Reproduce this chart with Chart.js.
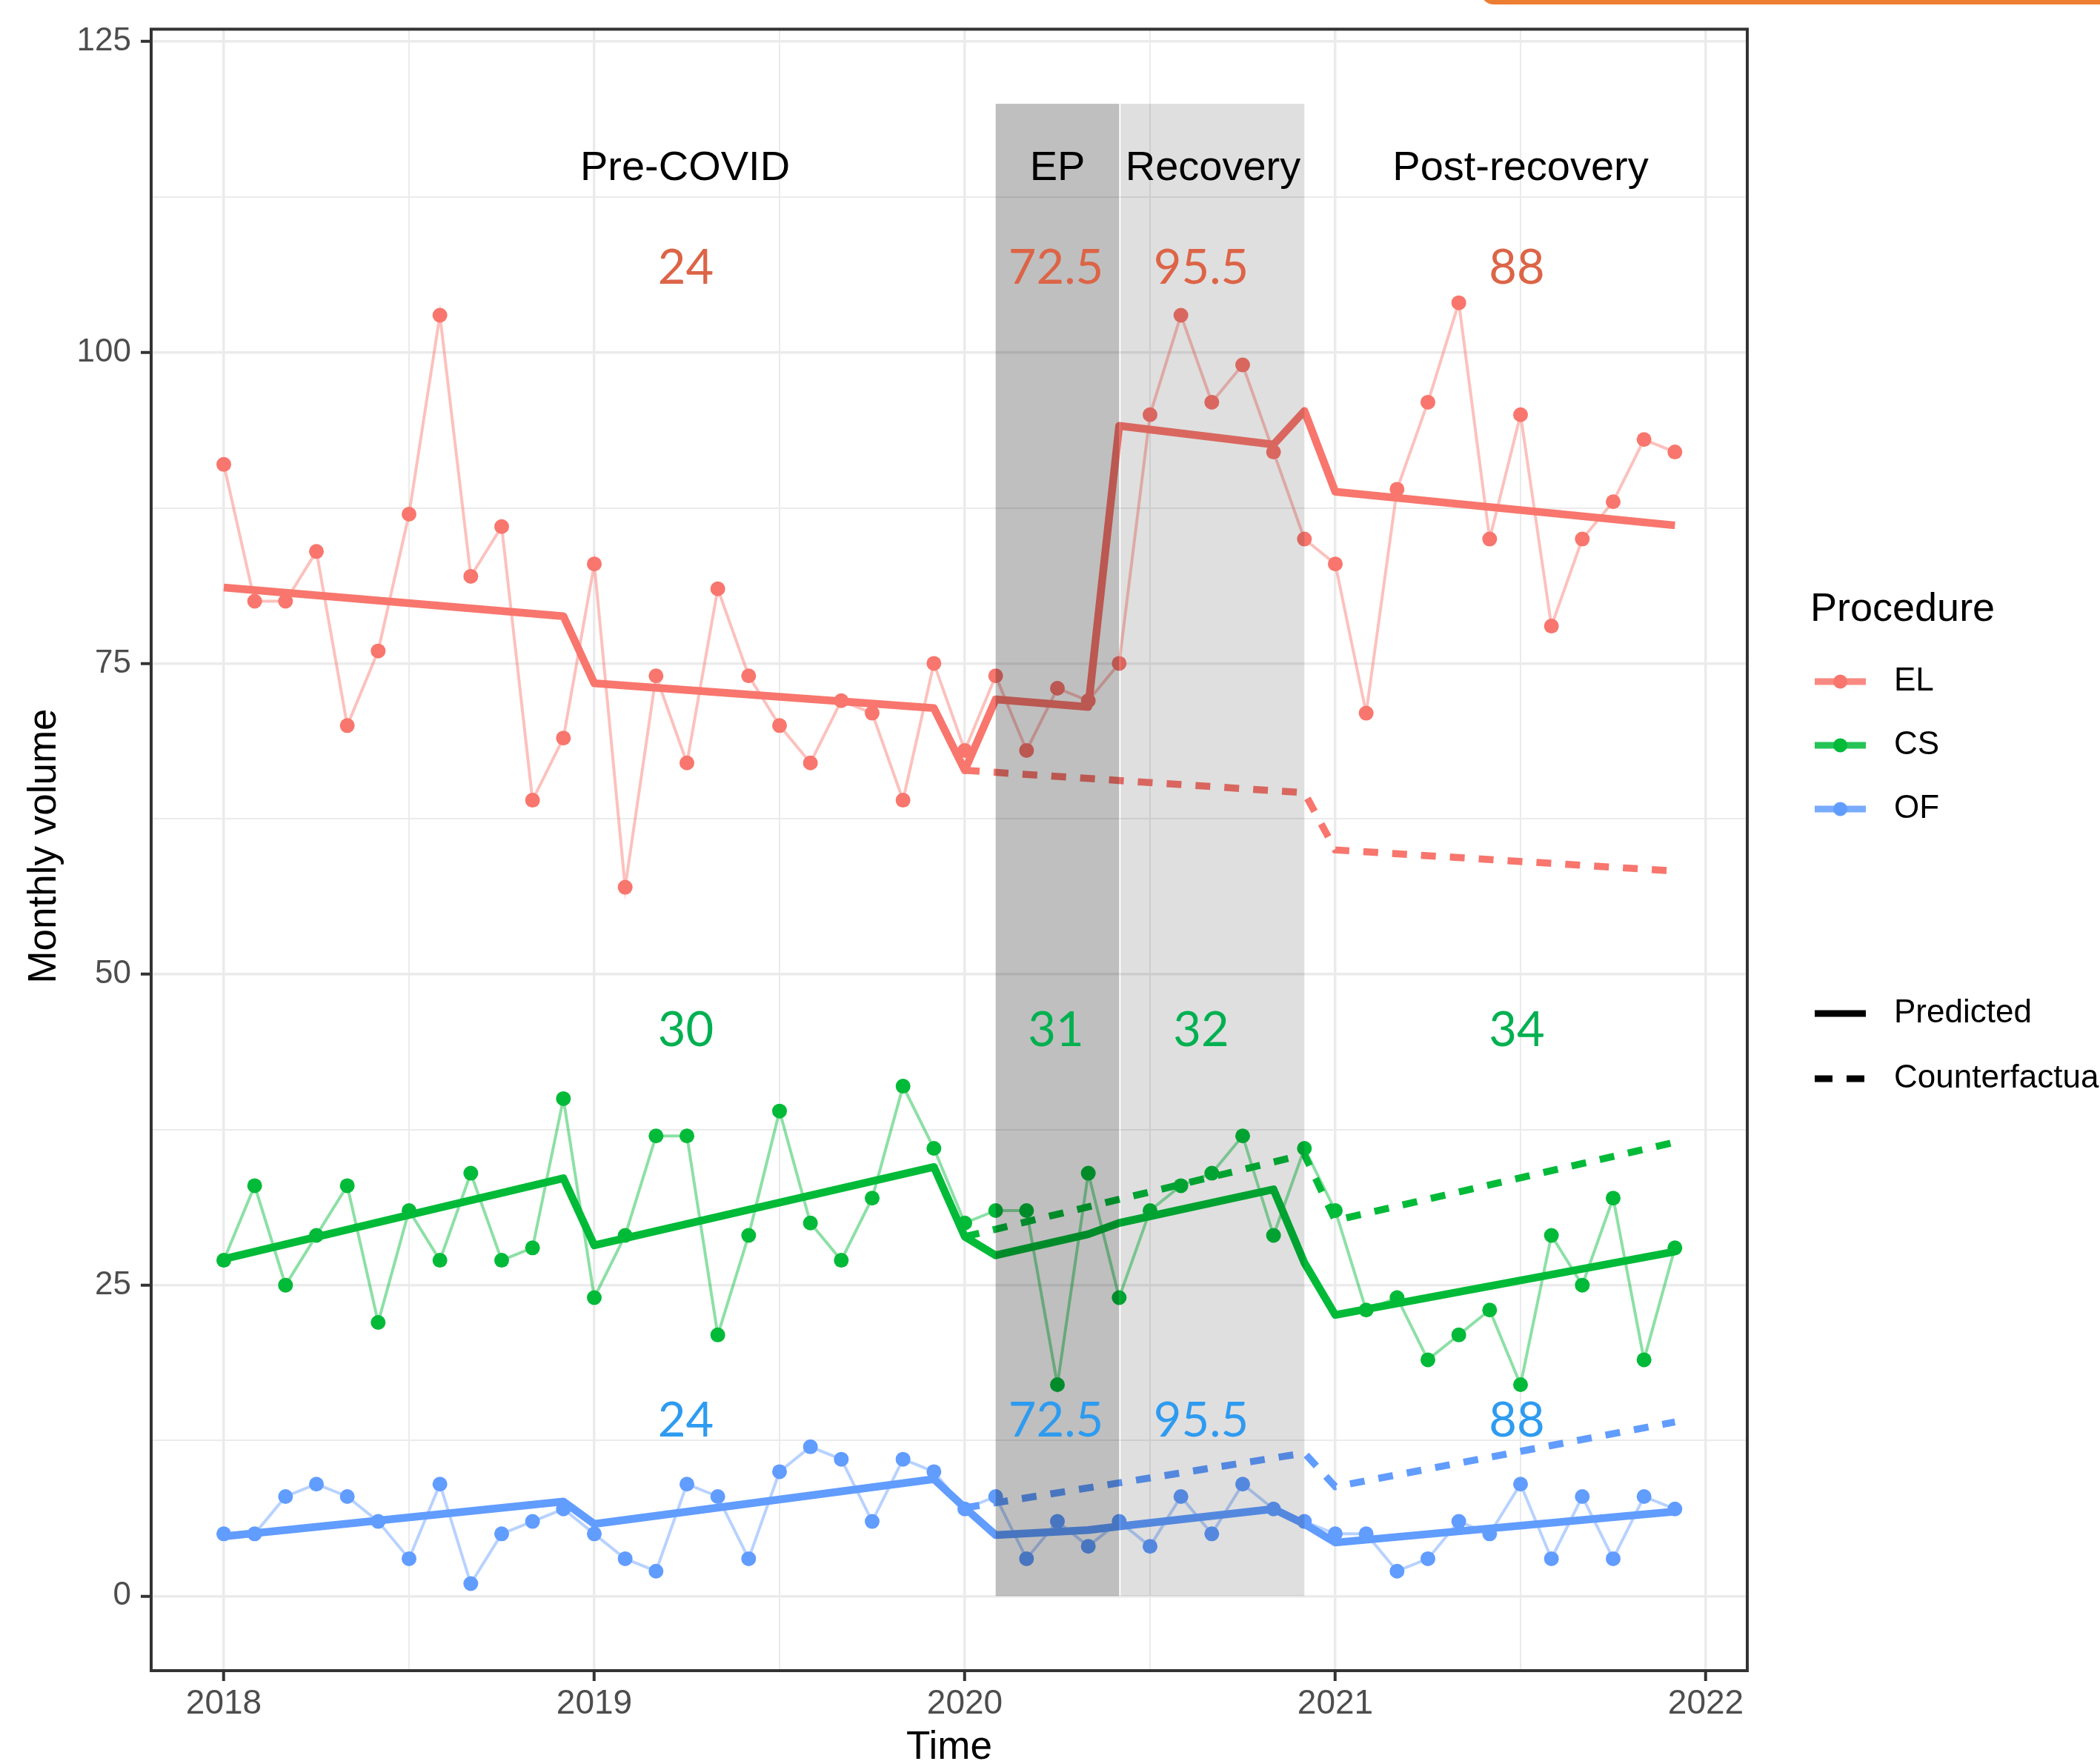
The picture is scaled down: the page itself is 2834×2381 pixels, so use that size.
<!DOCTYPE html>
<html lang="en">
<head>
<meta charset="utf-8">
<title>Monthly volume by procedure</title>
<script src="https://cdn.jsdelivr.net/npm/chart.js@4.4.1/dist/chart.umd.min.js"></script>
<style>
    html, body { margin: 0; padding: 0; background: #ffffff; }
    #wrap { position: relative; width: 2834px; height: 2381px; overflow: hidden; }
    #volumeChart { position: absolute; left: 0; top: 0; }
    #orangeTab { position: absolute; left: 1998px; top: -30px; width: 900px; height: 36px; background: #ED7D31; border-radius: 18px; }
</style>
</head>
<body>
<div id="wrap">
    <canvas id="volumeChart" width="2834" height="2381"></canvas>
    <div id="orangeTab"></div>
</div>
<script>
// ========================
// Données
// ========================

const months = [
    '2018-01', '2018-02', '2018-03', '2018-04', '2018-05', '2018-06', '2018-07', '2018-08', '2018-09', '2018-10', '2018-11', '2018-12',
    '2019-01', '2019-02', '2019-03', '2019-04', '2019-05', '2019-06', '2019-07', '2019-08', '2019-09', '2019-10', '2019-11', '2019-12',
    '2020-01', '2020-02', '2020-03', '2020-04', '2020-05', '2020-06', '2020-07', '2020-08', '2020-09', '2020-10', '2020-11', '2020-12',
    '2021-01', '2021-02', '2021-03', '2021-04', '2021-05', '2021-06', '2021-07', '2021-08', '2021-09', '2021-10', '2021-11', '2021-12'
];

// Volumes mensuels observés
const elObserved = [
    91, 80, 80, 84, 70, 76, 87, 103, 82, 86, 64, 69,
    83, 57, 74, 67, 81, 74, 70, 67, 72, 71, 64, 75,
    68, 74, 68, 73, 72, 75, 95, 103, 96, 99, 92, 85,
    83, 71, 89, 96, 104, 85, 95, 78, 85, 88, 93, 92
];
const csObserved = [
    27, 33, 25, 29, 33, 22, 31, 27, 34, 27, 28, 40,
    24, 29, 37, 37, 21, 29, 39, 30, 27, 32, 41, 36,
    30, 31, 31, 17, 34, 24, 31, 33, 34, 37, 29, 36,
    31, 23, 24, 19, 21, 23, 17, 29, 25, 32, 19, 28
];
const ofObserved = [
    5, 5, 8, 9, 8, 6, 3, 9, 1, 5, 6, 7,
    5, 3, 2, 9, 8, 3, 10, 12, 11, 6, 11, 10,
    7, 8, 3, 6, 4, 6, 4, 8, 5, 9, 7, 6,
    5, 5, 2, 3, 6, 5, 9, 3, 8, 3, 8, 7
];

// Courbes prédites (sommets des segments)
const predictedMonths = ['2018-01', '2018-12', '2019-01', '2019-12', '2020-01', '2020-02', '2020-05', '2020-06', '2020-11', '2020-12', '2021-01', '2021-12'];
const elPredicted = [81.1, 78.8, 73.4, 71.4, 66.4, 72.1, 71.5, 94.1, 92.6, 95.3, 88.8, 86.1];
const csPredicted = [27.1, 33.6, 28.2, 34.5, 28.9, 27.4, 29.1, 30.0, 32.7, 26.8, 22.6, 27.7];
const ofPredicted = [4.8, 7.6, 5.8, 9.4, 7.1, 4.9, 5.3, 5.6, 7.0, 5.8, 4.3, 6.8];

// Contrefactuels
const counterfactualMonths = ['2020-01', '2020-12', '2021-01', '2021-12'];
const elCounterfactual = [66.4, 64.6, 60.0, 58.3];
const csCounterfactual = [28.9, 35.5, 30.2, 36.5];
const ofCounterfactual = [7.1, 11.5, 8.8, 14.0];

const seriesNames = ['EL', 'CS', 'OF'];
const seriesColors = ['#F8766D', '#00BA38', '#619CFF'];

// Périodes
const periodNames = ['Pre-COVID', 'EP', 'Recovery', 'Post-recovery'];
const periodLabelX = [2019.245, 2020.25, 2020.67, 2021.5];
const periodLabelY = 114.8;
const shadeStart = ['2020-02', '2020-06'];
const shadeEnd = ['2020-06', '2020-12'];
const shadeRange = [0, 120];

// Chiffres annotés
const noteX = [2019.247, 2020.246, 2020.638, 2021.49];
const elNotes = ['24', '72.5', '95.5', '88'];
const csNotes = ['30', '31', '32', '34'];
const ofNotes = ['24', '72.5', '95.5', '88'];
const noteY = [106.8, 45.5, 14.1];
const noteColors = ['#DC6447', '#00B050', '#2E9BF0'];

// Graduations
const xTickValues = [2018, 2018.5, 2019, 2019.5, 2020, 2020.5, 2021, 2021.5, 2022];
const yTickValues = [0, 12.5, 25, 37.5, 50, 62.5, 75, 87.5, 100, 112.5, 125];

const FONT = '"Liberation Sans", Arial, Helvetica, sans-serif';

// ========================
// Utilitaires
// ========================

/**
 * Convertir 'AAAA-MM' en année décimale
 */
function toYear(m) {
    const parts = m.split('-');
    return Number(parts[0]) + (Number(parts[1]) - 1) / 12;
}

function buildPoints(monthList, values) {
    return monthList.map((m, i) => ({ x: toYear(m), y: values[i] }));
}

function withAlpha(hex, a) {
    const r = parseInt(hex.slice(1, 3), 16);
    const g = parseInt(hex.slice(3, 5), 16);
    const b = parseInt(hex.slice(5, 7), 16);
    return 'rgba(' + r + ', ' + g + ', ' + b + ', ' + a + ')';
}

// ========================
// Jeux de données
// ========================

const observedSets = [elObserved, csObserved, ofObserved];
const predictedSets = [elPredicted, csPredicted, ofPredicted];
const counterfactualSets = [elCounterfactual, csCounterfactual, ofCounterfactual];

const datasets = [];
seriesNames.forEach((name, i) => {
    datasets.push({
        label: name + ' observed',
        data: buildPoints(months, observedSets[i]),
        borderColor: withAlpha(seriesColors[i], 0.45),
        borderWidth: 4,
        pointRadius: 10,
        pointHoverRadius: 10,
        pointBorderWidth: 0,
        pointBackgroundColor: seriesColors[i],
        order: 3
    });
    datasets.push({
        label: name + ' predicted',
        data: buildPoints(predictedMonths, predictedSets[i]),
        borderColor: seriesColors[i],
        borderWidth: 10.5,
        borderJoinStyle: 'round',
        pointRadius: 0,
        order: 2
    });
    datasets.push({
        label: name + ' counterfactual',
        data: buildPoints(counterfactualMonths, counterfactualSets[i]),
        borderColor: seriesColors[i],
        borderWidth: 9.5,
        borderDash: [20, 19],
        pointRadius: 0,
        order: 2
    });
});

// ========================
// Plugins de dessin
// ========================

const periodsPlugin = {
    id: 'periods',
    afterDatasetsDraw(chart) {
        const { ctx, chartArea, scales } = chart;
        const xs = scales.x;
        const ys = scales.y;
        ctx.save();

        // Bandes grisées (par-dessus les données)
        const shadeFill = ['rgba(0, 0, 0, 0.25)', 'rgba(0, 0, 0, 0.125)'];
        const yTop = ys.getPixelForValue(shadeRange[1]);
        const yBot = ys.getPixelForValue(shadeRange[0]);
        shadeStart.forEach((s, i) => {
            let x0 = xs.getPixelForValue(toYear(s));
            const x1 = xs.getPixelForValue(toYear(shadeEnd[i]));
            if (i > 0) x0 += 2;
            ctx.fillStyle = shadeFill[i];
            ctx.fillRect(x0, yTop, x1 - x0, yBot - yTop);
        });

        // Cadre du panneau
        ctx.strokeStyle = '#333333';
        ctx.lineWidth = 4;
        ctx.strokeRect(chartArea.left, chartArea.top, chartArea.right - chartArea.left, chartArea.bottom - chartArea.top);

        // Noms des périodes
        ctx.fillStyle = '#000000';
        ctx.font = '56px ' + FONT;
        ctx.textAlign = 'center';
        ctx.textBaseline = 'middle';
        periodNames.forEach((p, i) => {
            ctx.fillText(p, xs.getPixelForValue(periodLabelX[i]), ys.getPixelForValue(periodLabelY));
        });

        // Chiffres colorés
        ctx.font = '65px Lato, "Open Sans", sans-serif';
        [elNotes, csNotes, ofNotes].forEach((notes, r) => {
            ctx.fillStyle = noteColors[r];
            notes.forEach((t, i) => {
                ctx.fillText(t, xs.getPixelForValue(noteX[i]), ys.getPixelForValue(noteY[r]));
            });
        });
        ctx.restore();
    },
    afterDraw(chart) {
        const ctx = chart.ctx;
        ctx.save();

        // Titres des axes
        ctx.fillStyle = '#000000';
        ctx.font = '53px ' + FONT;
        ctx.textAlign = 'center';
        ctx.textBaseline = 'middle';
        ctx.fillText('Time', (chart.chartArea.left + chart.chartArea.right) / 2, 2359);
        ctx.translate(60, 1142);
        ctx.rotate(-Math.PI / 2);
        ctx.fillText('Monthly volume', 0, 0);
        ctx.setTransform(1, 0, 0, 1, 0, 0);

        // Légende
        ctx.textAlign = 'left';
        ctx.font = '54px ' + FONT;
        ctx.fillText('Procedure', 2443, 823);
        ctx.font = '44px ' + FONT;
        const rowY = [920, 1006, 1092];
        seriesNames.forEach((name, i) => {
            ctx.strokeStyle = withAlpha(seriesColors[i], 0.85);
            ctx.lineWidth = 9;
            ctx.beginPath();
            ctx.moveTo(2449, rowY[i]);
            ctx.lineTo(2518, rowY[i]);
            ctx.stroke();
            ctx.fillStyle = seriesColors[i];
            ctx.beginPath();
            ctx.arc(2483.5, rowY[i], 9.5, 0, Math.PI * 2);
            ctx.fill();
            ctx.fillStyle = '#000000';
            ctx.fillText(name, 2556, rowY[i]);
        });

        ctx.strokeStyle = '#000000';
        ctx.lineWidth = 9;
        ctx.beginPath();
        ctx.moveTo(2449, 1368);
        ctx.lineTo(2518, 1368);
        ctx.stroke();
        ctx.fillText('Predicted', 2556, 1368);

        ctx.beginPath();
        ctx.moveTo(2449, 1456);
        ctx.lineTo(2473, 1456);
        ctx.moveTo(2492, 1456);
        ctx.lineTo(2516, 1456);
        ctx.stroke();
        ctx.fillText('Counterfactual', 2556, 1456);
        ctx.restore();
    }
};

// ========================
// Graphique Chart.js
// ========================

function isMajorY(v) { return v % 25 === 0; }
function isMajorX(v) { return Number.isInteger(v); }

function renderVolumeChart() {
    const ctx = document.getElementById('volumeChart');

    return new Chart(ctx, {
        type: 'line',
        data: { datasets: datasets },
        options: {
            responsive: false,
            devicePixelRatio: 1,
            animation: false,
            events: [],
            layout: { padding: { top: 39, right: 476, bottom: 0, left: 0 } },
            plugins: {
                legend: { display: false },
                tooltip: { enabled: false }
            },
            scales: {
                x: {
                    type: 'linear',
                    min: 2017.804,
                    max: 2022.112,
                    afterBuildTicks: (axis) => { axis.ticks = xTickValues.map(v => ({ value: v })); },
                    afterFit: (axis) => { axis.height = 126; },
                    border: { display: false },
                    grid: {
                        color: '#ebebeb',
                        lineWidth: (c) => (c.tick && isMajorX(c.tick.value) ? 3.5 : 2),
                        tickColor: (c) => (c.tick && isMajorX(c.tick.value) ? '#333333' : 'rgba(0,0,0,0)'),
                        tickLength: 14,
                        tickWidth: 4
                    },
                    ticks: {
                        autoSkip: false,
                        maxRotation: 0,
                        padding: 4,
                        color: '#4d4d4d',
                        font: { family: FONT, size: 46 },
                        callback: (v) => (isMajorX(v) ? String(v) : '')
                    }
                },
                y: {
                    type: 'linear',
                    min: -6,
                    max: 126,
                    afterBuildTicks: (axis) => { axis.ticks = yTickValues.map(v => ({ value: v })); },
                    afterFit: (axis) => { axis.width = 204; },
                    border: { display: false },
                    grid: {
                        color: '#ebebeb',
                        lineWidth: (c) => (c.tick && isMajorY(c.tick.value) ? 3.5 : 2),
                        tickColor: (c) => (c.tick && isMajorY(c.tick.value) ? '#333333' : 'rgba(0,0,0,0)'),
                        tickLength: 14,
                        tickWidth: 4
                    },
                    ticks: {
                        padding: 13,
                        color: '#4d4d4d',
                        font: { family: FONT, size: 44 },
                        callback: (v) => (isMajorY(v) ? String(v) : '')
                    }
                }
            }
        },
        plugins: [periodsPlugin]
    });
}

renderVolumeChart();
</script>
</body>
</html>
